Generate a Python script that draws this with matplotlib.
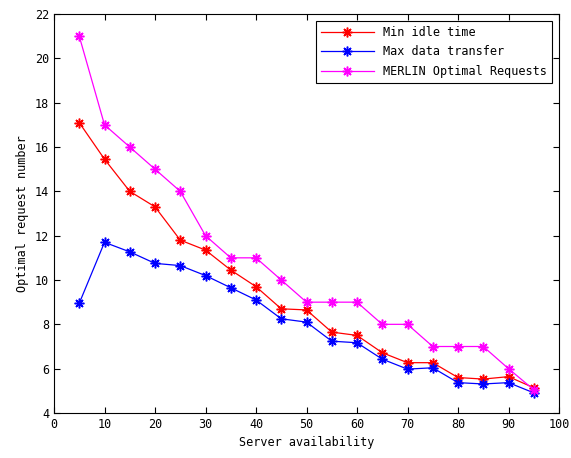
import matplotlib
matplotlib.use("Agg")
import matplotlib.pyplot as plt

availability = [5, 10, 15, 20, 25, 30, 35, 40, 45, 50, 55, 60, 65, 70, 75, 80, 85, 90, 95]
min_idle = [17.1, 15.45, 14.0, 13.3, 11.8, 11.35, 10.45, 9.7, 8.7, 8.65, 7.65, 7.5, 6.72, 6.27, 6.27,
            5.6, 5.53, 5.64, 5.14]
max_transfer = [8.95, 11.7, 11.27, 10.75, 10.65, 10.2, 9.65, 9.1, 8.25, 8.1, 7.24, 7.17, 6.43, 5.98,
                6.04, 5.37, 5.31, 5.37, 4.91]
merlin = [21.0, 17.0, 16.0, 15.0, 14.0, 12.0, 11.0, 11.0, 10.0, 9.0, 9.0, 9.0, 8.0, 8.0, 7.0,
          7.0, 7.0, 6.0, 5.05]

plt.rcParams['font.family'] = 'DejaVu Sans Mono'
plt.rcParams['font.size'] = 8.5

# MATLAB-style asterisk: 8 spokes
ast = (8, 2, 0)

fig = plt.figure(figsize=(5.71, 4.58), dpi=100)
ax = fig.add_axes([54 / 571, 1 - 413 / 458, 505 / 571, 399 / 458])

ax.plot(availability, min_idle, color='#ff0000', marker=ast, markersize=7, mew=1.1, lw=0.9,
        label='Min idle time')
ax.plot(availability, max_transfer, color='#0000ff', marker=ast, markersize=7, mew=1.1, lw=0.9,
        label='Max data transfer')
ax.plot(availability, merlin, color='#ff00ff', marker=ast, markersize=7, mew=1.1, lw=0.9,
        label='MERLIN Optimal Requests')

ax.set_xlim(0, 100)
ax.set_ylim(4, 22)
ax.set_xticks(range(0, 101, 10))
ax.set_yticks(range(4, 23, 2))
ax.tick_params(direction='in', top=True, right=True, length=4, width=0.8)
for sp in ax.spines.values():
    sp.set_linewidth(0.8)

ax.set_xlabel('Server availability')
ax.set_ylabel('Optimal request number')

leg = ax.legend(loc='upper right', fancybox=False, edgecolor='black', framealpha=1,
                borderaxespad=0.6, handlelength=4.5, borderpad=0.4, labelspacing=0.55)
leg.get_frame().set_linewidth(0.8)

fig.savefig('out.png', dpi=100)
